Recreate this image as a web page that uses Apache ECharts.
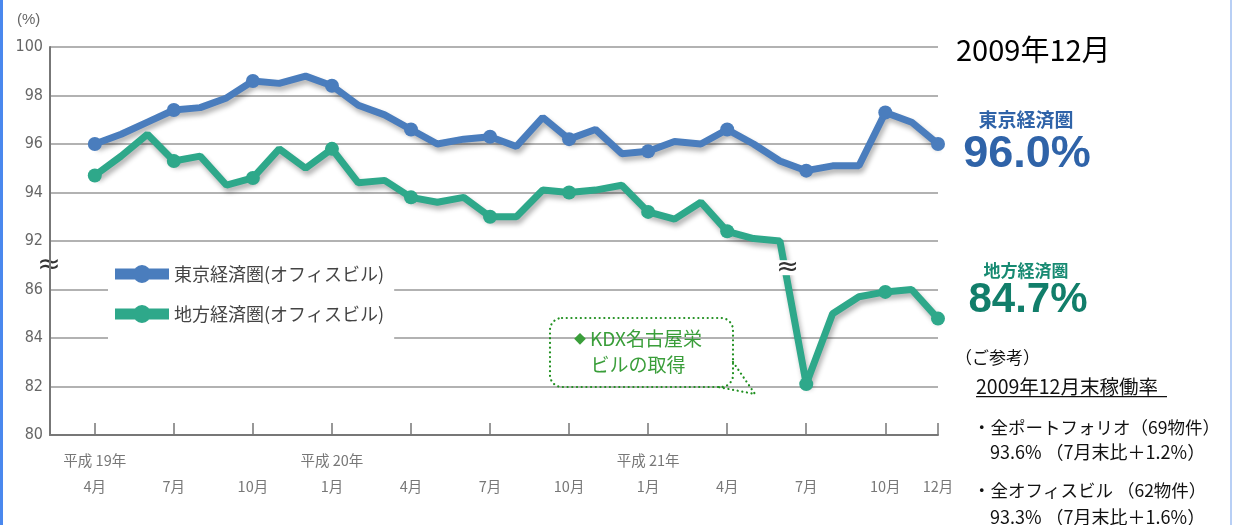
<!DOCTYPE html>
<html>
<head>
<meta charset="utf-8">
<script src="https://cdn.jsdelivr.net/npm/echarts@6/dist/echarts.min.js"></script>
<style>
html,body{margin:0;padding:0;background:#fff;}
#chart{width:1233px;height:525px;}
</style>
</head>
<body>
<div id="chart"></div>
<script>
// ---- data (real occupancy values, %) ----
var months = ['2007-04','2007-05','2007-06','2007-07','2007-08','2007-09','2007-10','2007-11','2007-12',
  '2008-01','2008-02','2008-03','2008-04','2008-05','2008-06','2008-07','2008-08','2008-09','2008-10','2008-11','2008-12',
  '2009-01','2009-02','2009-03','2009-04','2009-05','2009-06','2009-07','2009-08','2009-09','2009-10','2009-11','2009-12'];
var tokyo = [96.0,96.4,96.9,97.4,97.5,97.9,98.6,98.5,98.8,98.4,97.6,97.2,96.6,96.0,96.2,96.3,95.9,97.1,96.2,96.6,95.6,
  95.7,96.1,96.0,96.6,96.0,95.3,94.9,95.1,95.1,97.3,96.9,96.0];
var regional = [94.7,95.5,96.4,95.3,95.5,94.3,94.6,95.8,95.0,95.8,94.4,94.5,93.8,93.6,93.8,93.0,93.0,94.1,94.0,94.1,94.3,
  93.2,92.9,93.6,92.4,92.1,92.0,82.1,85.0,85.7,85.9,86.0,84.8];
var seriesNames = ['東京経済圏(オフィスビル)','地方経済圏(オフィスビル)'];
var tickIdx = [0,3,6,9,12,15,18,21,24,27,30,32];
var tickMonths = ['4月','7月','10月','1月','4月','7月','10月','1月','4月','7月','10月','12月'];
var tickYears = ['平成 19年','','','平成 20年','','','','平成 21年','','','',''];
var yTickLabels = ['80','82','84','86','92','94','96','98','100'];

// broken axis: values above the break are shifted down by 4
var BREAK_SHIFT = 4;
function disp(v){ return v >= 88 ? v - BREAK_SHIFT : v; }

var chart = echarts.init(document.getElementById('chart'));
var blue = '#4a7dbd', teal = '#2ea88a';
function symSize(val, p){ return (p.dataIndex % 3 === 0 || p.dataIndex === months.length - 1) ? 14 : 0; }
function mk(arr){ return arr.map(function(v,i){ return [i, disp(v)]; }); }

var option = {
  animation:false,
  grid:{left:50,right:295,top:47,bottom:90},
  legend:{
    left:108, top:253, orient:'vertical', padding:[12,10,18,7], itemGap:22,
    itemWidth:54, itemHeight:20, backgroundColor:'#fff',
    icon:'path://M0 4.5H54V15.5H0Z M36 10A9 9 0 1 1 18 10A9 9 0 1 1 36 10Z',
    textStyle:{fontSize:18,color:'#444',fontFamily:'Noto Sans CJK JP'}
  },
  xAxis:{
    type:'value', min:-1.7, max:months.length-1,
    splitLine:{show:false},
    axisLine:{onZero:false,lineStyle:{color:'#777',width:2}},
    axisTick:{inside:true,length:12,customValues:tickIdx,lineStyle:{color:'#777',width:1.5}},
    axisLabel:{
      customValues:tickIdx, margin:12,
      formatter:function(v){
        var k = tickIdx.indexOf(Math.round(v));
        if(k<0) return '';
        return '{y|' + (tickYears[k] || ' ') + '}\n{m|' + tickMonths[k] + '}';
      },
      rich:{
        y:{fontSize:14.5,color:'#777',lineHeight:26,fontFamily:'Noto Sans CJK JP'},
        m:{fontSize:14.5,color:'#777',lineHeight:26,fontFamily:'Noto Sans CJK JP'}
      }
    }
  },
  yAxis:{
    type:'value', min:80, max:96, interval:2,
    axisLine:{show:true,onZero:false,lineStyle:{color:'#777',width:2}},
    axisTick:{show:false},
    splitLine:{lineStyle:{color:'#999',width:1.5}},
    axisLabel:{
      margin:7, color:'#666', fontSize:16, fontFamily:'Liberation Sans Narrow, DejaVu Sans Condensed, sans-serif',
      formatter:function(v){ return yTickLabels[Math.round((v-80)/2)]; }
    }
  },
  series:[
    {name:seriesNames[0], type:'line', data:mk(tokyo), symbol:'circle', symbolSize:symSize,
     lineStyle:{color:blue,width:7,shadowColor:'rgba(0,0,0,0.3)',shadowBlur:5,shadowOffsetX:2,shadowOffsetY:4},
     itemStyle:{color:blue}, z:3},
    {name:seriesNames[1], type:'line', data:mk(regional), symbol:'circle', symbolSize:symSize,
     lineStyle:{color:teal,width:7,shadowColor:'rgba(0,0,0,0.3)',shadowBlur:5,shadowOffsetX:2,shadowOffsetY:4},
     itemStyle:{color:teal}, z:3}
  ]
};
chart.setOption(option);

var bp = chart.convertToPixel({gridIndex:0},[26.25, 86.9]);
var cjk = 'Noto Sans CJK JP';
var dotted = {fill:'none', stroke:'#1f8f1f', lineWidth:2.2, lineDash:[0.1,4.6], lineCap:'round'};
var g = [
  {type:'rect', shape:{x:0,y:0,width:3,height:525}, style:{fill:'#4a88ee'}},
  {type:'rect', shape:{x:1230,y:0,width:2,height:525}, style:{fill:'#b8cff5'}},
  {type:'text', x:17, y:12, style:{text:'(%)', fill:'#666', fontSize:15, fontFamily:'Liberation Sans Narrow, sans-serif'}},
  {type:'text', x:49, y:266, style:{text:'≈', fill:'#333', fontSize:28, align:'center', verticalAlign:'middle', fontFamily:'DejaVu Sans'}},
  {type:'text', x:bp[0]+1, y:bp[1], z:10, style:{text:'≈', fill:'#333', fontSize:27, align:'center', verticalAlign:'middle', fontFamily:'DejaVu Sans', backgroundColor:'#fff', padding:[-6,0,-6,0]}},
  {type:'rect', shape:{x:550,y:318,width:183,height:69,r:12}, style:dotted},
  {type:'polyline', shape:{points:[[733,362],[755,394],[718,387]]}, style:dotted},
  {type:'text', x:638, y:352, style:{text:'{d|◆}{t|KDX名古屋栄}\n{t|ビルの取得}', align:'center', verticalAlign:'middle',
    rich:{d:{fontSize:12,fill:'#3a9e3a',fontFamily:cjk,lineHeight:26,padding:[0,4,0,0]},t:{fontSize:19,fill:'#3a9e3a',fontFamily:cjk,lineHeight:26}}}},
  {type:'text', x:956, y:50, style:{text:'2009年12月', fill:'#000', fontSize:29, verticalAlign:'middle', fontFamily:cjk}},
  {type:'text', x:1026, y:120, style:{text:'東京経済圏', fill:'#2f63a8', fontSize:19, fontWeight:'bold', align:'center', verticalAlign:'middle', fontFamily:cjk}},
  {type:'text', x:1027, y:155, style:{text:'96.0%', fill:'#2f63a8', fontSize:45, fontWeight:'bold', align:'center', verticalAlign:'middle', fontFamily:'Liberation Sans'}},
  {type:'text', x:1026, y:271, style:{text:'地方経済圏', fill:'#178a72', fontSize:17, fontWeight:'bold', align:'center', verticalAlign:'middle', fontFamily:cjk}},
  {type:'text', x:1028, y:300, style:{text:'84.7%', fill:'#117e6a', fontSize:42, fontWeight:'bold', align:'center', verticalAlign:'middle', fontFamily:'Liberation Sans'}},
  {type:'text', x:955, y:358, style:{text:'（ご参考）', fill:'#111', fontSize:17, verticalAlign:'middle', fontFamily:cjk}},
  {type:'text', x:976, y:387, style:{text:'2009年12月末稼働率', fill:'#111', fontSize:19.5, verticalAlign:'middle', fontFamily:cjk}},
  {type:'rect', shape:{x:976,y:396,width:191,height:1.2}, style:{fill:'#111'}},
  {type:'text', x:973, y:427, style:{text:'・全ポートフォリオ（69物件）', fill:'#111', fontSize:17.5, verticalAlign:'middle', fontFamily:cjk}},
  {type:'text', x:990, y:452, style:{text:'93.6% （7月末比＋1.2%）', fill:'#111', fontSize:18, verticalAlign:'middle', fontFamily:cjk}},
  {type:'text', x:973, y:490, style:{text:'・全オフィスビル （62物件）', fill:'#111', fontSize:17.5, verticalAlign:'middle', fontFamily:cjk}},
  {type:'text', x:990, y:517, style:{text:'93.3% （7月末比＋1.6%）', fill:'#111', fontSize:18, verticalAlign:'middle', fontFamily:cjk}}
];
chart.setOption({graphic:g});
</script>
</body>
</html>
